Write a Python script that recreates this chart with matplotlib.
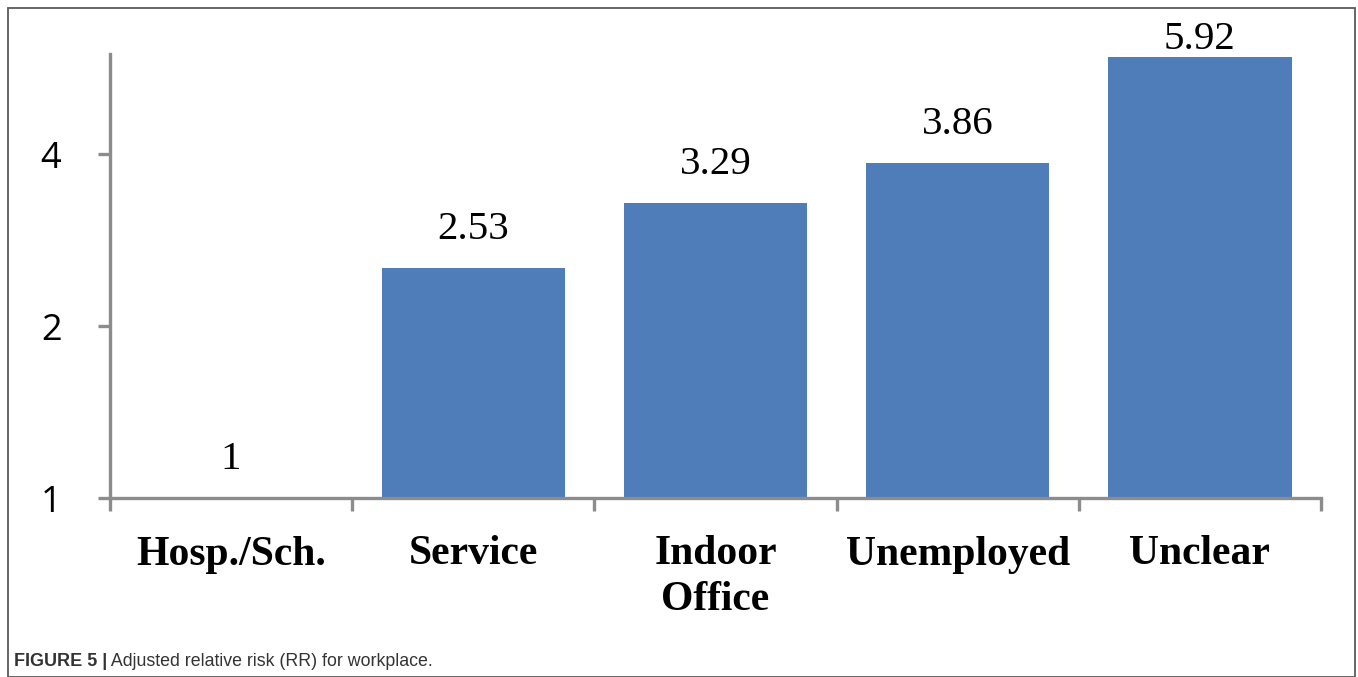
import matplotlib
matplotlib.use("Agg")
import matplotlib.pyplot as plt
from matplotlib.patches import Rectangle
from matplotlib.ticker import FixedLocator, NullLocator

categories = ["Hosp./Sch.", "Service", "Indoor\nOffice", "Unemployed", "Unclear"]
values = [1, 2.53, 3.29, 3.86, 5.92]
value_labels = ["1", "2.53", "3.29", "3.86", "5.92"]
yticks = [1, 2, 4]
ytick_labels = ["1", "2", "4"]
caption_bold = "FIGURE 5 |"
caption_rest = " Adjusted relative risk (RR) for workplace."

W, H = 1358, 677
fig = plt.figure(figsize=(W / 100, H / 100), dpi=100)
fig.patch.set_facecolor("white")

ax = fig.add_axes([110 / W, 179 / H, (1321 - 110) / W, (498 - 54) / H])
ax.set_yscale("log", base=2)
ax.set_ylim(1, 6)
n = len(categories)
ax.set_xlim(-0.5, n - 0.5)

bar_color = "#4F7DBA"
x = list(range(n))
ax.bar(x, [v - 1 for v in values], bottom=1, width=0.757, color=bar_color, zorder=2)

for i, (v, lab) in enumerate(zip(values, value_labels)):
    off = 14.5 if v < 5.5 else -0.5
    ax.annotate(lab, (i, v), xytext=(0, off), textcoords="offset points",
                ha="center", va="bottom", fontsize=29.5, family="Liberation Serif",
                color="black")

axis_gray = "#8C8C8C"
for s in ["top", "right"]:
    ax.spines[s].set_visible(False)
for s in ["left", "bottom"]:
    ax.spines[s].set_color(axis_gray)
    ax.spines[s].set_linewidth(2.4)
    ax.spines[s].set_zorder(3)

ax.yaxis.set_major_locator(FixedLocator(yticks))
ax.yaxis.set_minor_locator(NullLocator())
ax.set_yticklabels(ytick_labels)
ax.tick_params(axis="y", which="major", direction="out", length=9, width=2.4,
               color=axis_gray, pad=26, labelsize=26)
for t in ax.get_yticklabels():
    t.set_family("Open Sans")

# category boundary ticks on x axis
ax.xaxis.set_major_locator(FixedLocator([i - 0.5 for i in range(n + 1)]))
ax.xaxis.set_minor_locator(FixedLocator(x))
ax.tick_params(axis="x", which="major", direction="out", length=9, width=2.4,
               color=axis_gray, labelbottom=False)
ax.tick_params(axis="x", which="minor", length=0, pad=27, labelsize=30)
ax.set_xticklabels(categories, minor=True)
for t in ax.get_xticklabels(minor=True):
    t.set_family("Liberation Serif")
    t.set_fontweight("bold")
    t.set_va("top")
    t.set_linespacing(1.25)

# outer frame
fig.patches.append(Rectangle((8 / W, 0 / H), (1355 - 8) / W, (669) / H,
                             transform=fig.transFigure, fill=False,
                             edgecolor="#5A5A5A", linewidth=1.3))

t1 = fig.text(14 / W, 1 - 662 / H, caption_bold, fontsize=13.0, fontweight="bold",
              family="Liberation Sans", color="#333333", va="center", ha="left")
fig.canvas.draw()
bb = t1.get_window_extent()
fig.text(bb.x1 / W, 1 - 662 / H, caption_rest, fontsize=12.8,
         family="Liberation Sans", color="#333333", va="center", ha="left")

fig.savefig("out.png", dpi=100)
